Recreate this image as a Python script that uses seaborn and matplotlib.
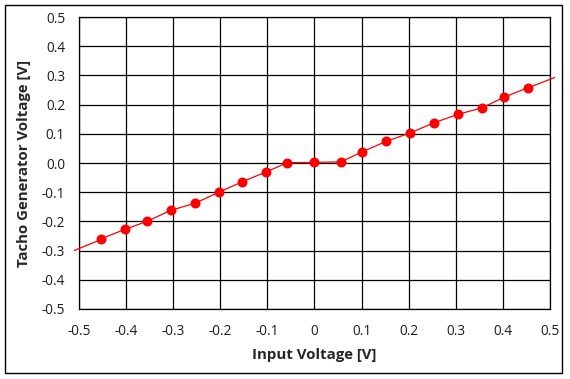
import numpy as np
import pandas as pd
import matplotlib
matplotlib.use('Agg')
import matplotlib.pyplot as plt
import seaborn as sns
from matplotlib.patches import Rectangle

## dados
entrada = [-0.454, -0.402, -0.356, -0.305, -0.254, -0.203, -0.153, -0.102, -0.058,
           0.0, 0.056, 0.101, 0.152, 0.203, 0.254, 0.305, 0.356, 0.402, 0.453]
tacho = [-0.260, -0.227, -0.200, -0.162, -0.138, -0.100, -0.064, -0.030, 0.001,
         0.002, 0.004, 0.038, 0.074, 0.103, 0.138, 0.167, 0.189, 0.225, 0.258]

x_ticks = [-0.5, -0.4, -0.3, -0.2, -0.1, 0, 0.1, 0.2, 0.3, 0.4, 0.5]
x_tick_labels = ['-0.5', '-0.4', '-0.3', '-0.2', '-0.1', '0', '0.1', '0.2', '0.3', '0.4', '0.5']
y_ticks = [-0.5, -0.4, -0.3, -0.2, -0.1, 0.0, 0.1, 0.2, 0.3, 0.4, 0.5]
y_tick_labels = ['-0.5', '-0.4', '-0.3', '-0.2', '-0.1', '0.0', '0.1', '0.2', '0.3', '0.4', '0.5']

df = pd.DataFrame({'entrada': entrada, 'tacho': tacho})

sns.set_style('white')
plt.rcParams['font.family'] = ['Open Sans', 'DejaVu Sans']

fig = plt.figure(figsize=(5.7, 3.79), dpi=100)
ax = fig.add_axes([0.1386, 0.1847, 0.8263, 0.7704])

## linhas de tendencia nas duas metades
neg = df[df['entrada'] < -0.04]
pos = df[df['entrada'] > 0.04]
a_n, b_n = np.polyfit(neg['entrada'], neg['tacho'], 1)
a_p, b_p = np.polyfit(pos['entrada'], pos['tacho'], 1)
xn = np.array([-0.51, neg['entrada'].iloc[0]])
xp = np.array([pos['entrada'].iloc[-1], 0.51])
ax.plot(xn, a_n * xn + b_n, color='#ff0000', lw=0.9, clip_on=False, zorder=3)
ax.plot(xp, a_p * xp + b_p, color='#ff0000', lw=0.9, clip_on=False, zorder=3)

sns.lineplot(data=df, x='entrada', y='tacho', ax=ax, color='#ff0000',
             lw=0.9, marker='o', markersize=7.2, markeredgewidth=0,
             sort=False, zorder=4)

ax.set_xlim(-0.5, 0.5)
ax.set_ylim(-0.5, 0.5)
ax.set_xticks(x_ticks)
ax.set_xticklabels(x_tick_labels)
ax.set_yticks(y_ticks)
ax.set_yticklabels(y_tick_labels)
ax.grid(True, color='black', lw=0.9)
ax.tick_params(axis='both', length=0, labelsize=9.8, colors='#1a1a2a')
ax.tick_params(axis='x', pad=10.5)
ax.tick_params(axis='y', pad=10)
for s in ax.spines.values():
    s.set_color('black')
    s.set_linewidth(0.9)

ax.set_xlabel('Input Voltage [V]', fontsize=10.8, fontweight='bold', labelpad=7)
ax.set_ylabel('Tacho Generator Voltage [V]', fontsize=10.8, fontweight='bold', labelpad=8)

## moldura externa
fig.patches.append(Rectangle((5 / 570, 6 / 379), 557 / 570, 368 / 379,
                             transform=fig.transFigure, fill=False,
                             edgecolor='black', lw=1.0))

fig.savefig('out.png', dpi=100)
